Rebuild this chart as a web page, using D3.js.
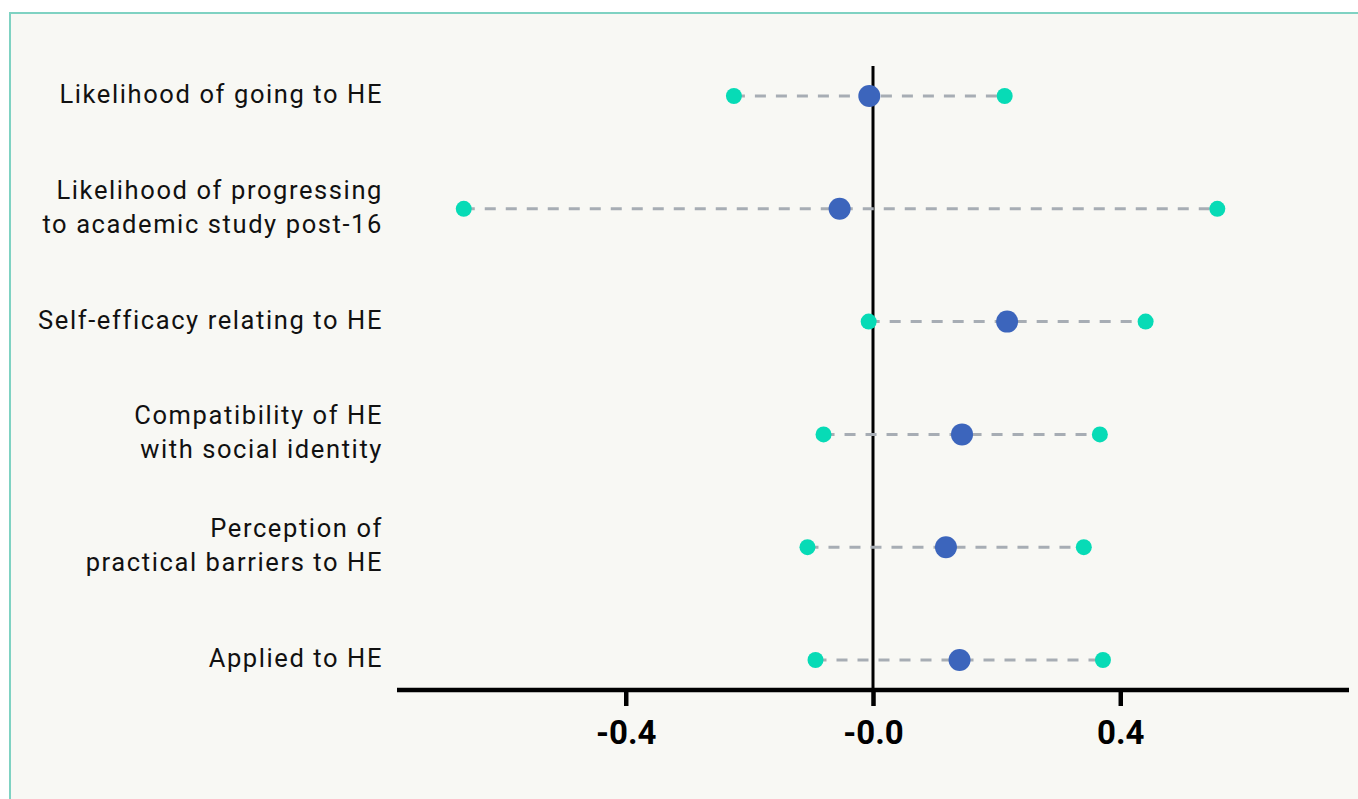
<!DOCTYPE html>
<html>
<head>
<meta charset="utf-8">
<script src="https://cdn.jsdelivr.net/npm/d3@7"></script>
<style>
  html, body { margin: 0; padding: 0; background: #ffffff; }
  svg { display: block; }
</style>
</head>
<body>
<svg id="chart" width="1358" height="799"></svg>
<script>
// ---- data ----
const categories = [
  ["Likelihood of going to HE"],
  ["Likelihood of progressing", "to academic study post-16"],
  ["Self-efficacy relating to HE"],
  ["Compatibility of HE", "with social identity"],
  ["Perception of", "practical barriers to HE"],
  ["Applied to HE"]
];
const lowValues  = [-0.225, -0.662, -0.007, -0.080, -0.106, -0.093];
const meanValues = [-0.006, -0.054,  0.217,  0.144,  0.118,  0.140];
const highValues = [ 0.213,  0.557,  0.441,  0.367,  0.341,  0.372];
const tickValues = [-0.4, 0, 0.4];
const tickLabels = ["-0.4", "-0.0", "0.4"];

// ---- layout ----
const W = 1358, H = 799;
const svg = d3.select("#chart");
const font = "Roboto, 'Noto Sans', sans-serif";

// panel
svg.append("rect").attr("x", 0).attr("y", 0).attr("width", W).attr("height", H).attr("fill", "#ffffff");
svg.append("rect").attr("x", 10).attr("y", 13).attr("width", W + 20).attr("height", H + 20)
  .attr("fill", "#f8f8f4").attr("stroke", "#7fd2c2").attr("stroke-width", 2);

const x = d3.scaleLinear().domain([-0.77, 0.77]).range([397, 1349]);
const y = d3.scalePoint().domain(d3.range(categories.length)).range([96, 660]);

// zero line
svg.append("line")
  .attr("x1", x(0)).attr("x2", x(0)).attr("y1", 66).attr("y2", 690)
  .attr("stroke", "#000").attr("stroke-width", 3);

// x axis
const axisG = svg.append("g").attr("transform", "translate(0,690)");
axisG.call(d3.axisBottom(x).tickValues(tickValues).tickSize(16).tickPadding(15)
  .tickFormat((d, i) => tickLabels[i]));
axisG.select(".domain").attr("stroke", "#000").attr("stroke-width", 4.5)
  .attr("d", `M${x.range()[0]},0H${x.range()[1]}`);
axisG.selectAll(".tick line").attr("stroke", "#000").attr("stroke-width", 4.5);
axisG.selectAll(".tick text").attr("fill", "#000").attr("font-family", font)
  .attr("font-weight", "bold").attr("font-size", 33).attr("dy", "0.71em");

// dashed connectors
const rows = categories.map((c, i) => ({ i, lo: lowValues[i], mean: meanValues[i], hi: highValues[i] }));
svg.append("g").selectAll("line").data(rows).join("line")
  .attr("x1", d => x(d.lo)).attr("x2", d => x(d.hi))
  .attr("y1", d => y(d.i)).attr("y2", d => y(d.i))
  .attr("stroke", "#a7adb4").attr("stroke-width", 3).attr("stroke-dasharray", "11,10");

// end points
svg.append("g").selectAll("circle").data(rows.flatMap(d => [{ i: d.i, v: d.lo }, { i: d.i, v: d.hi }]))
  .join("circle").attr("cx", d => x(d.v)).attr("cy", d => y(d.i)).attr("r", 8)
  .attr("fill", "#07dbb6");

// mean points
svg.append("g").selectAll("circle").data(rows).join("circle")
  .attr("cx", d => x(d.mean)).attr("cy", d => y(d.i)).attr("r", 11)
  .attr("fill", "#3c65bc");

// category labels
const lineH = 34;
const lab = svg.append("g");
categories.forEach((lines, i) => {
  const t = lab.append("text").attr("x", 383).attr("text-anchor", "end")
    .attr("font-family", font).attr("font-size", 25.5).attr("fill", "#111")
    .attr("letter-spacing", 1.6);
  lines.forEach((ln, k) => {
    t.append("tspan").attr("x", 383)
      .attr("y", y(i) + (k - (lines.length - 1) / 2) * lineH - 2)
      .attr("dy", "0.35em").text(ln);
  });
});
</script>
</body>
</html>
